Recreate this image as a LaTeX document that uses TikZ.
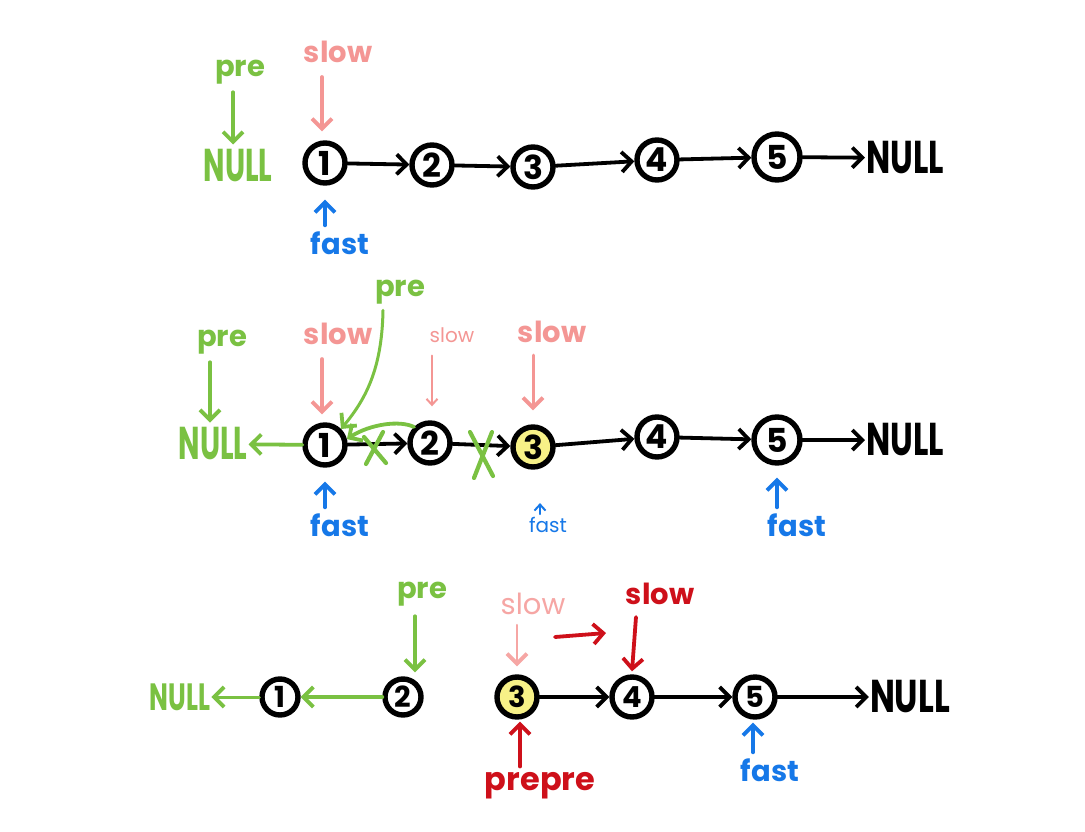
\documentclass[tikz,border=0pt]{standalone}
\usepackage{fontspec}
\usepackage{graphicx}
\setmainfont{Poppins}
\usetikzlibrary{arrows.meta,calc}
\definecolor{cgreen}{RGB}{122,193,66}
\definecolor{cpink}{RGB}{244,150,148}
\definecolor{cblue}{RGB}{22,120,232}
\definecolor{cred}{RGB}{206,16,26}
\definecolor{cyell}{RGB}{247,241,135}
\tikzset{
  ln/.style={circle,draw=black,line width=5.4pt,minimum size=40pt,inner sep=0pt,
    font=\fontsize{33}{33}\selectfont\bfseries},
  lnsm/.style={ln,minimum size=36pt,font=\fontsize{29}{29}\selectfont\bfseries},
  hl/.style={fill=cyell},
  nul/.style={inner sep=1pt,font=\fontsize{46}{46}\selectfont\bfseries},
  nulsm/.style={inner sep=1pt,font=\fontsize{38}{38}\selectfont\bfseries},
  lbl/.style={inner sep=2pt,font=\fontsize{29}{29}\selectfont\bfseries},
  lblsm/.style={inner sep=1pt,font=\fontsize{20}{20}\selectfont},
  arr/.style={-{Straight Barb[length=10pt,width=20pt,line width=3.8pt]},line width=3.8pt,line cap=round},
  thinarr/.style={-{Straight Barb[length=6pt,width=11pt,line width=2pt]},line width=2pt,line cap=round},
  xmark/.style={draw=cgreen,line width=4.2pt,line cap=round},
}
\begin{document}
\begin{tikzpicture}[x=1pt,y=-1pt]
\useasboundingbox[fill=white] (0,0) rectangle (1085,831);

% ---------------- Row 1 ----------------
\node[ln] (a1) at (325,163) {1};
\node[ln] (a2) at (432,165) {2};
\node[ln] (a3) at (533,167) {3};
\node[ln] (a4) at (657,160) {4};
\node[ln,minimum size=46pt] (a5) at (777,157) {5};
\node[nul] (anull) at (905,158) {\scalebox{0.7}[1]{NULL}};
\node[nul,text=cgreen] (apnull) at (238,166) {\scalebox{0.62}[1]{NULL}};
\node[lbl,text=cgreen] (apre) at (240,72) {pre};
\node[lbl,text=cpink] (aslow) at (338,52) {slow};
\node[lbl,text=cblue] (afast) at (340,243) {fast};

\draw[arr] (a1) -- (a2);
\draw[arr] (a2) -- (a3);
\draw[arr] (a3) -- (a4);
\draw[arr] (a4) -- (a5);
\draw[arr] (a5) -- (anull);
\draw[arr,cgreen] ($(apre.south)+(-7,6)$) coordinate (ap1) -- ($(apnull.north)+(-5,-4)$) coordinate (ap2);
\draw[arr,cpink] ($(aslow.south -| a1.north)+(-3,12)$) coordinate (as1) -- ($(a1.north)+(-3,-9)$) coordinate (as2);
\draw[arr,cblue] ($(afast.north -| a1.south)+(0,-4)$) coordinate (af1) -- ($(a1.south)+(0,14)$) coordinate (af2);

% ---------------- Row 2 ----------------
\node[ln] (b1) at (325,445) {1};
\node[ln] (b2) at (430,443) {2};
\node[ln,hl] (b3) at (533,447) {3};
\node[ln] (b4) at (657,437) {4};
\node[ln,minimum size=46pt] (b5) at (777,440) {5};
\node[nul] (bnull) at (905,440) {\scalebox{0.7}[1]{NULL}};
\node[nul,text=cgreen] (bpnull) at (213,444) {\scalebox{0.62}[1]{NULL}};
\node[lbl,text=cgreen] (bpre) at (222,342) {pre};
\node[lbl,text=cgreen] (bpre2) at (400,292) {pre};
\node[lbl,text=cpink] (bslow1) at (338,334) {slow};
\node[lblsm,text=cpink] (bslow2) at (452,335) {slow};
\node[lbl,text=cpink] (bslow3) at (552,332) {slow};
\node[lbl,text=cblue] (bfast1) at (340,525) {fast};
\node[lblsm,text=cblue] (bfast2) at (548,525) {fast};
\node[lbl,text=cblue] (bfast3) at (797,525) {fast};

\draw[arr] (b1) -- (b2);
\draw[arr] (b2) -- (b3);
\draw[arr] (b3) -- (b4);
\draw[arr] (b4) -- (b5);
\draw[arr] (b5) -- (bnull);
\draw[arr,cgreen] (b1) -- (bpnull);
\draw[arr,cgreen] ($(bpre.south)+(-12,6)$) coordinate (bp1) -- ($(bpnull.north)+(-3,-4)$) coordinate (bp2);
\draw[arr,cgreen,line width=3pt] ($(bpre2.south)+(-17,4)$) coordinate (bq1) .. controls (382,370) and (365,400) .. (b1.north east);
\draw[arr,cgreen] (b2.north west) .. controls (400,420) and (370,424) .. (b1.15);
\draw[arr,cpink] ($(bslow1.south -| b1.north)+(-3,12)$) coordinate (bs1) -- ($(b1.north)+(-3,-8)$) coordinate (bs2);
\draw[thinarr,cpink,line width=2.4pt] ($(bslow2.south -| b2.north)+(2,12)$) coordinate (bt1) -- ($(b2.north)+(2,-14)$) coordinate (bt2);
\draw[arr,cpink,line width=3pt] ($(bslow3.south -| b3.north)+(0,10)$) coordinate (bu1) -- ($(b3.north)+(0,-14)$) coordinate (bu2);
\draw[arr,cblue] ($(bfast1.north -| b1.south)+(0,-4)$) coordinate (bf1) -- ($(b1.south)+(0,14)$) coordinate (bf2);
\draw[thinarr,cblue] ($(bfast2.north)+(-8,-2)$) coordinate (bg1) -- ($(bfast2.north)+(-8,-13)$) coordinate (bg2);
\draw[arr,cblue] ($(bfast3.north -| b5.south)+(0,-4)$) coordinate (bh1) -- ($(b5.south)+(0,12)$) coordinate (bh2);
% crosses
\draw[xmark] (364,437) -- (386,463) (383,432) -- (366,464);
\draw[xmark] (470,432) -- (493,476) (492,432) -- (474,478);

% ---------------- Row 3 ----------------
\node[lnsm] (c1) at (280,697) {1};
\node[lnsm] (c2) at (403,697) {2};
\node[lnsm,hl,minimum size=40pt] (c3) at (517,697) {3};
\node[lnsm,minimum size=40pt] (c4) at (632,697) {4};
\node[lnsm,minimum size=40pt] (c5) at (755,697) {5};
\node[nul] (cnull) at (910,697) {\scalebox{0.72}[1]{NULL}};
\node[nulsm,text=cgreen] (cpnull) at (180,697) {\scalebox{0.66}[1]{NULL}};
\node[lbl,text=cgreen] (cpre) at (422,594) {pre};
\node[lbl,text=cpink!85,font=\fontsize{29}{29}\selectfont] (cslow1) at (533,604) {slow};
\node[lbl,text=cred] (cslow2) at (660,594) {slow};
\node[lbl,text=cred,font=\fontsize{32}{32}\selectfont\bfseries] (cprepre) at (540,786) {prepre};
\node[lbl,text=cblue] (cfast) at (770,770) {fast};

\draw[arr] (c3) -- (c4);
\draw[arr] (c4) -- (c5);
\draw[arr] (c5) -- (cnull);
\draw[arr,cgreen,line width=3pt] (c1) -- (cpnull);
\draw[arr,cgreen] (c2.west) -- (c1.east);
\draw[arr,cgreen] ($(cpre.south -| c2.north)+(12,8)$) coordinate (cp1) -- ($(c2.north)+(12,-4)$) coordinate (cp2);
\draw[arr,cpink!85,line width=2.6pt] ($(cslow1.south -| c3.north)+(0,8)$) coordinate (cs1) -- ($(c3.north)+(0,-8)$) coordinate (cs2);
\draw[arr,cred] ($(cslow2.south -| c4.north)+(4,10)$) coordinate (ct1) -- ($(c4.north)+(0,-3)$) coordinate (ct2);
\coordinate (cm1) at (555,637);
\coordinate (cm2) at (606,633);
\draw[arr,cred] (cm1) -- (cm2);
\draw[arr,cred] ($(cprepre.north -| c3.south)+(3,-4)$) coordinate (cr1) -- ($(c3.south)+(3,2)$) coordinate (cr2);
\draw[arr,cblue] ($(cfast.north -| c5.south)+(-2,-4)$) coordinate (cf1) -- ($(c5.south)+(-2,3)$) coordinate (cf2);
\end{tikzpicture}
\end{document}
